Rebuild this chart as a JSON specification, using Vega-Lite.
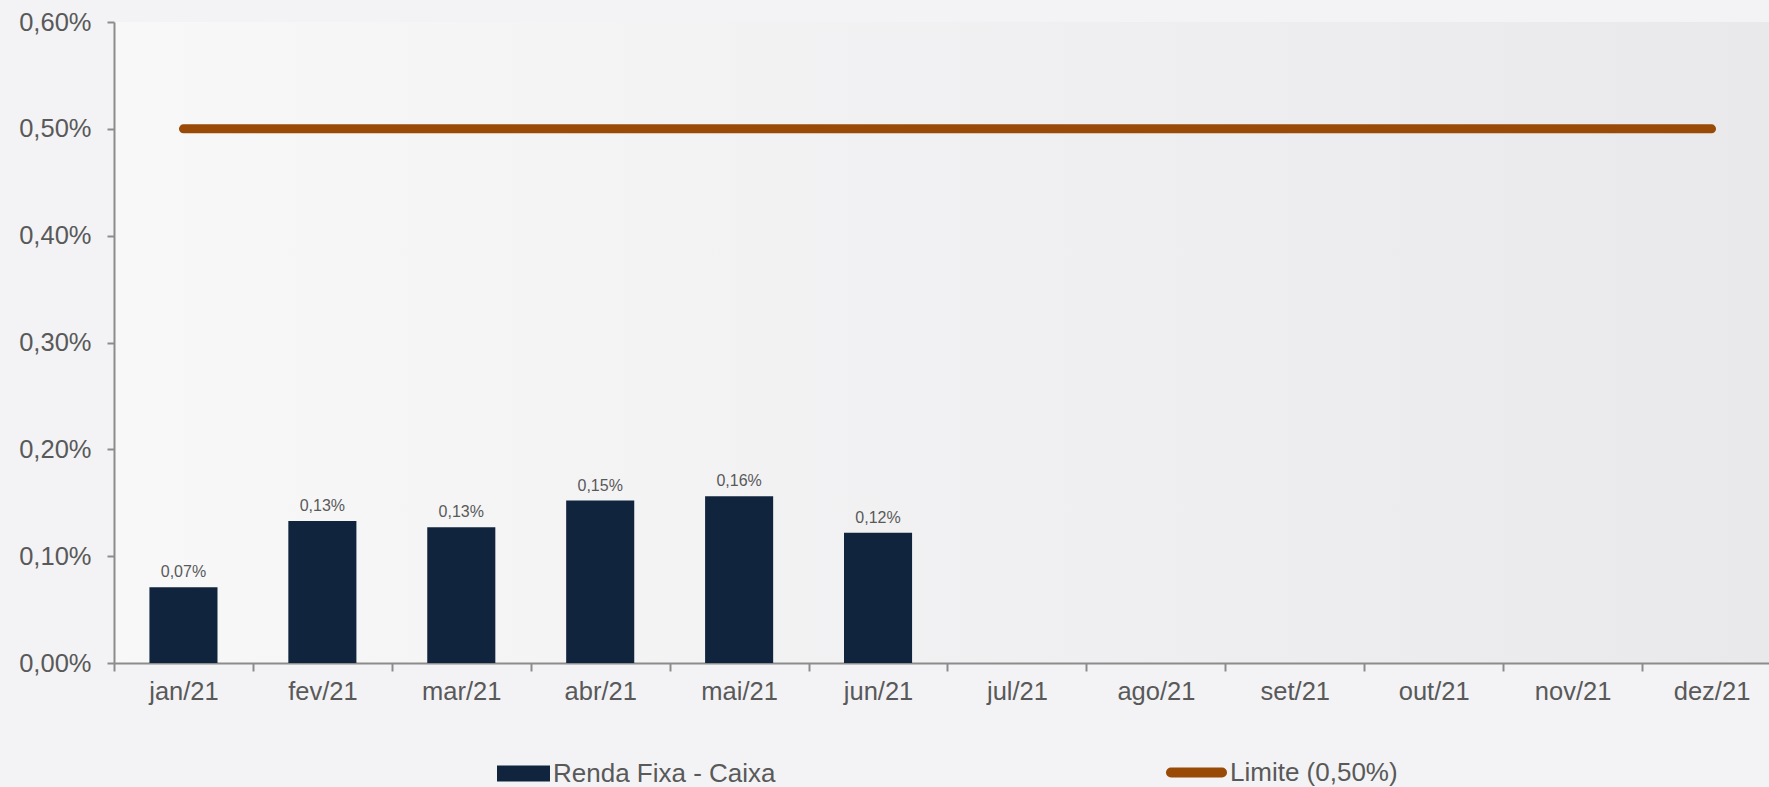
{
  "$schema": "https://vega.github.io/schema/vega-lite/v6.json",
  "width": 1655,
  "height": 641,
  "autosize": {"type": "none"},
  "padding": {"left": 114, "top": 22, "right": 0, "bottom": 124},
  "background": "#f3f3f5",
  "config": {
    "font": "Liberation Sans",
    "view": {"stroke": null, "fill": {"gradient": "linear", "x1": 0, "y1": 0, "x2": 1, "y2": 0, "stops": [{"offset": 0, "color": "#f8f8f9"}, {"offset": 1, "color": "#e9e9eb"}]}},
    "locale": {"number": {"decimal": ",", "thousands": ".", "grouping": [3], "currency": ["R$", ""]}},
    "axis": {
      "domainColor": "#8c8c8c",
      "domainWidth": 2,
      "tickColor": "#8c8c8c",
      "tickWidth": 2,
      "labelColor": "#595959",
      "labelFontSize": 25.5,
      "labelFont": "Liberation Sans",
      "grid": false,
      "title": null
    },
    "legend": {
      "labelFont": "Liberation Sans",
      "labelFontSize": 26,
      "labelColor": "#595959",
      "labelOffset": 3,
      "labelLimit": 600,
      "padding": 0,
      "title": null
    }
  },
  "datasets": {
    "bars": [
      {"mes": "jan/21", "valor": 0.00071, "serie": "Renda Fixa - Caixa"},
      {"mes": "fev/21", "valor": 0.00133, "serie": "Renda Fixa - Caixa"},
      {"mes": "mar/21", "valor": 0.00127, "serie": "Renda Fixa - Caixa"},
      {"mes": "abr/21", "valor": 0.00152, "serie": "Renda Fixa - Caixa"},
      {"mes": "mai/21", "valor": 0.00156, "serie": "Renda Fixa - Caixa"},
      {"mes": "jun/21", "valor": 0.00122, "serie": "Renda Fixa - Caixa"}
    ],
    "limite": [
      {"mes": "jan/21", "valor": 0.005, "serie": "Limite (0,50%)"},
      {"mes": "fev/21", "valor": 0.005, "serie": "Limite (0,50%)"},
      {"mes": "mar/21", "valor": 0.005, "serie": "Limite (0,50%)"},
      {"mes": "abr/21", "valor": 0.005, "serie": "Limite (0,50%)"},
      {"mes": "mai/21", "valor": 0.005, "serie": "Limite (0,50%)"},
      {"mes": "jun/21", "valor": 0.005, "serie": "Limite (0,50%)"},
      {"mes": "jul/21", "valor": 0.005, "serie": "Limite (0,50%)"},
      {"mes": "ago/21", "valor": 0.005, "serie": "Limite (0,50%)"},
      {"mes": "set/21", "valor": 0.005, "serie": "Limite (0,50%)"},
      {"mes": "out/21", "valor": 0.005, "serie": "Limite (0,50%)"},
      {"mes": "nov/21", "valor": 0.005, "serie": "Limite (0,50%)"},
      {"mes": "dez/21", "valor": 0.005, "serie": "Limite (0,50%)"}
    ]
  },
  "encoding": {
    "x": {
      "field": "mes",
      "type": "ordinal",
      "sort": null,
      "scale": {
        "domain": ["jan/21", "fev/21", "mar/21", "abr/21", "mai/21", "jun/21", "jul/21", "ago/21", "set/21", "out/21", "nov/21", "dez/21"],
        "paddingInner": 0,
        "paddingOuter": 0,
        "range": [0, 1667]
      },
      "axis": {"labelAngle": 0, "tickBand": "extent", "tickSize": 8, "labelPadding": 8}
    },
    "y": {
      "field": "valor",
      "type": "quantitative",
      "scale": {"domain": [0, 0.006], "nice": false},
      "axis": {"format": ".2%", "values": [0, 0.001, 0.002, 0.003, 0.004, 0.005, 0.006], "tickSize": 7, "labelPadding": 16}
    }
  },
  "layer": [
    {
      "data": {"name": "bars"},
      "mark": {"type": "bar", "width": {"band": 0.49}},
      "encoding": {
        "fill": {
          "field": "serie",
          "type": "nominal",
          "scale": {"domain": ["Renda Fixa - Caixa"], "range": ["#11243e"]},
          "legend": {
            "orient": "none",
            "legendX": 383,
            "legendY": 725,
            "symbolType": "M-1,-0.3H1V0.3H-1Z",
            "symbolSize": 2809,
            "symbolStrokeWidth": 0
          }
        }
      }
    },
    {
      "data": {"name": "bars"},
      "mark": {"type": "text", "baseline": "bottom", "dy": -7, "fontSize": 16, "color": "#595959"},
      "encoding": {
        "text": {"field": "valor", "type": "quantitative", "format": ".2%"}
      }
    },
    {
      "data": {"name": "limite"},
      "mark": {"type": "line", "strokeWidth": 9, "strokeCap": "round"},
      "encoding": {
        "stroke": {
          "field": "serie",
          "type": "nominal",
          "scale": {"domain": ["Limite (0,50%)"], "range": ["#994a06"]},
          "legend": {
            "orient": "none",
            "legendX": 1052,
            "legendY": 720,
            "symbolType": "stroke",
            "symbolSize": 2601,
            "symbolStrokeWidth": 10,
            "encode": {"symbols": {"update": {"strokeCap": {"value": "round"}}}}
          }
        }
      }
    }
  ]
}
